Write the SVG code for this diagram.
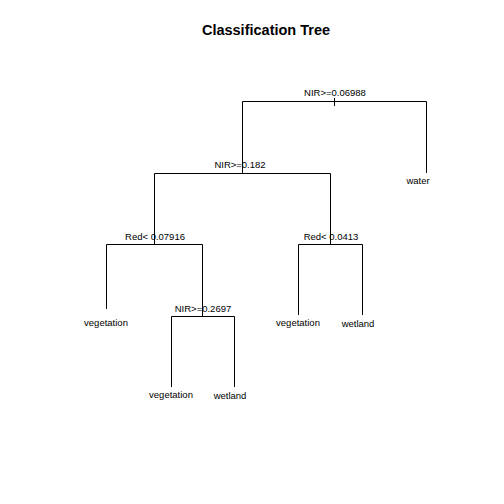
<svg xmlns="http://www.w3.org/2000/svg" width="504" height="504" viewBox="0 0 504 504">
<style>
text{font-family:"Liberation Sans",Arial,sans-serif;font-size:9.5px;fill:#000;text-anchor:middle}
.title{font-size:14.5px;font-weight:bold}
#connectors path{stroke:#000;stroke-width:1;fill:none}
</style>
<rect width="504" height="504" fill="#fff"/>
<text class="title" x="266" y="35">Classification Tree</text>
<g id="connectors">
<path d="M334.5,98 V106"/>
<path d="M242.5,173.5 V101.5 H426.5 V173"/>
<path d="M154.5,244.5 V173.5 H330.5 V244.5"/>
<path d="M106.5,309 V244.5 H202.5 V316.5"/>
<path d="M298.5,315 V244.5 H362.5 V315"/>
<path d="M171.5,387 V316.5 H234.5 V387"/>
</g>
<g id="n1"><text x="335" y="96">NIR&gt;=0.06988</text></g>
<g id="n2"><text x="240" y="168">NIR&gt;=0.182</text></g>
<g id="n3"><text x="418" y="184">water</text></g>
<g id="n4"><text x="155" y="240">Red&lt; 0.07916</text></g>
<g id="n5"><text x="331" y="240">Red&lt; 0.0413</text></g>
<g id="n6"><text x="106" y="326">vegetation</text></g>
<g id="n7"><text x="203" y="312">NIR&gt;=0.2697</text></g>
<g id="n8"><text x="298" y="326">vegetation</text></g>
<g id="n9"><text x="358" y="327">wetland</text></g>
<g id="n10"><text x="171" y="398">vegetation</text></g>
<g id="n11"><text x="230" y="399">wetland</text></g>
</svg>
